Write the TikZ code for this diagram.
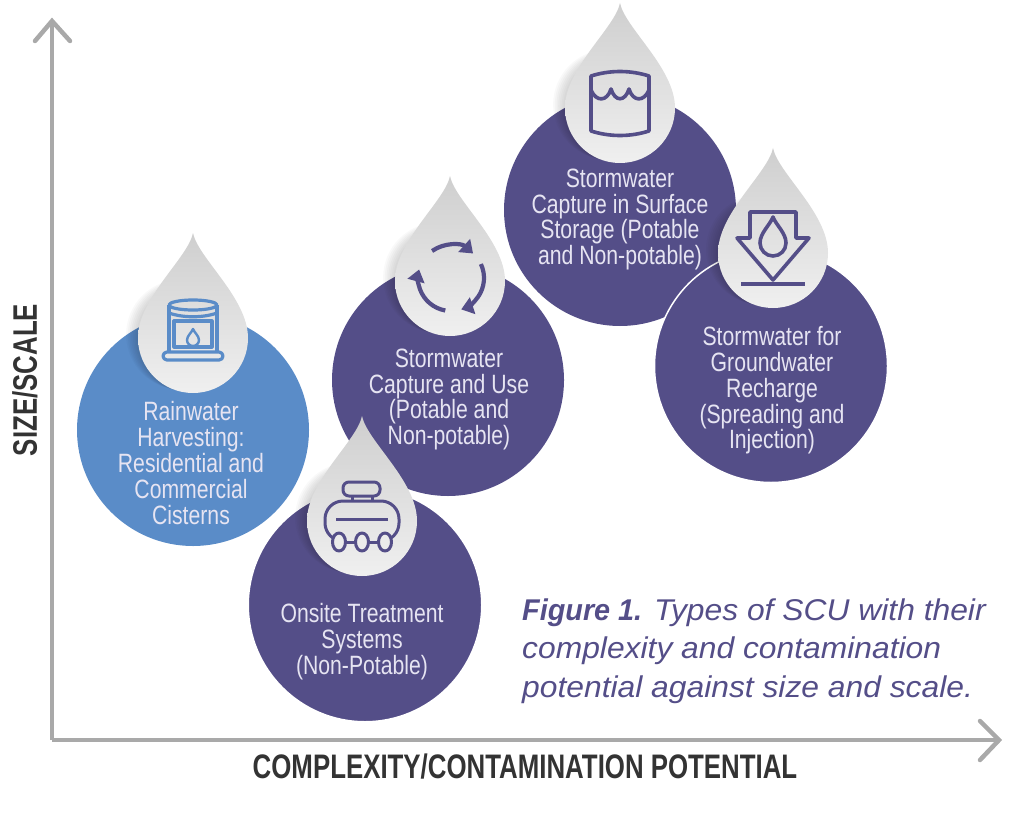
\documentclass[tikz,border=0pt]{standalone}
\usepackage{fontspec}
\usepackage{xcolor}
\usetikzlibrary{arrows.meta,positioning}
\setmainfont{Liberation Sans}[FakeStretch=0.8]
\newfontfamily\axisfont{Liberation Sans}[FakeStretch=0.76]
\newfontfamily\capfont{Liberation Sans}[FakeStretch=1.06,BoldItalicFeatures={FakeStretch=0.96}]
\definecolor{scupurple}{HTML}{544E88}
\definecolor{scublue}{HTML}{5A8CC8}
\definecolor{scuaxis}{HTML}{A9A9A9}
\definecolor{scutext}{HTML}{E6E4F2}
\tikzset{
  blob/.style={circle,minimum size=232pt,inner sep=0pt,fill=scupurple},
  blurb/.style={align=center,text=scutext,font=\fontsize{26.5}{25.8}\selectfont},
  axisline/.style={draw=scuaxis,line width=4.5pt},
  axislabel/.style={font=\axisfont\fontsize{34}{36}\selectfont\bfseries,text=black!80},
  icon/.style={draw=scupurple,line width=3.6pt,line join=round},
  pics/drop/.style={code={
    \foreach \k in {1,...,7}
      \fill[black,opacity=0.022] (-\k*1.7,-\k*0.5) circle[radius=55];
    \shade[top color=black!19,middle color=black!10,bottom color=black!6] (0,-105) .. controls (5,-80) and (55,-40) .. (55,0)
      arc[start angle=0,end angle=180,radius=55] .. controls (-55,-40) and (-5,-80) .. (0,-105) -- cycle;
  }},
}

\begin{document}
\begin{tikzpicture}[x=1pt,y=-1pt]
  \useasboundingbox (0,0) rectangle (1024,813);
  % axes
  \coordinate (origin) at (52,740);
  \coordinate (ytip) at (52,21);
  \coordinate (xtip) at (999,740);
  \draw[axisline] (origin) -- (ytip);
  \draw[axisline] (origin) -- (xtip);
  \draw[axisline,line cap=round] (35,41) -- (ytip) -- (70,41);
  \draw[axisline,line cap=round] (980,721) -- (xtip) -- (980,760);
  \node[axislabel,rotate=90] (ylabel) at (25,380) {SIZE/SCALE};
  \node[axislabel] (xlabel) at (525,767) {COMPLEXITY/CONTAMINATION POTENTIAL};

  % circles
  \node[blob] (surface) at (620,210) {};
  \node[blob,draw=white,line width=1.5pt,minimum size=233pt] (ground) at (771,366) {};
  \node[blob] (capture) at (448,380) {};
  \node[blob,fill=scublue] (rain) at (193,430) {};
  \node[blob,draw=white,line width=4pt,minimum size=236pt] (onsite) at (365,605) {};

  % drops
  \pic at (620,108) {drop};
  \pic at (773,253) {drop};
  \pic at (450,281) {drop};
  \pic at (193,338) {drop};
  \pic at (362,521) {drop};

  % surface storage icon
  \begin{scope}[shift={(620,108)}]
    \draw[icon] (-29,-32) .. controls (-10,-38) and (10,-38) .. (29,-32) -- (29,23)
      .. controls (10,29) and (-10,29) .. (-29,23) -- cycle;
    \draw[icon] (-29,-18) .. controls (-24,-6) and (-13,-6) .. (-9,-19)
      .. controls (-5,-6) and (5,-6) .. (9,-19)
      .. controls (13,-6) and (24,-6) .. (29,-18);
  \end{scope}
  % recharge icon
  \begin{scope}[shift={(773,253)}]
    \draw[icon] (-23,-41) -- (23,-41) -- (23,-15) -- (36,-15) -- (0,27) -- (-36,-15) -- (-23,-15) -- cycle;
    \draw[icon] (0,-36) .. controls (3,-28) and (13,-20) .. (13,-10)
      arc[start angle=0,end angle=180,radius=13] .. controls (-13,-20) and (-3,-28) .. (0,-36) -- cycle;
    \draw[icon] (-32,31) -- (32,31);
  \end{scope}
  % recycle icon
  \begin{scope}[shift={(451,278)},icon/.append style={line width=4.2pt}]
    \draw[icon,-{Triangle[length=12pt,width=17pt]}] (-125:33) arc[start angle=-125,end angle=-48,radius=33];
    \draw[icon,-{Triangle[length=12pt,width=17pt]}] (-25:33) arc[start angle=-25,end angle=72,radius=33];
    \draw[icon,-{Triangle[length=12pt,width=17pt]}] (100:33) arc[start angle=100,end angle=195,radius=33];
  \end{scope}
  % cistern icon
  \begin{scope}[shift={(193,338)},icon/.append style={draw=scublue,line width=3.2pt}]
    \draw[icon] (0,-33) ellipse[x radius=24,y radius=5];
    \draw[icon] (-24,-33) -- (-24,14);
    \draw[icon] (24,-33) -- (24,14);
    \draw[icon] (-24,-25) .. controls (-10,-20) and (10,-20) .. (24,-25);
    \draw[icon] (-19,-17) rectangle (19,9);
    \draw[icon,rounded corners=4pt] (-30,14) rectangle (30,22);
    \draw[icon,line width=2.4pt] (0,-9) .. controls (1,-6) and (6,-2) .. (6,2)
      arc[start angle=0,end angle=180,radius=6] .. controls (-6,-2) and (-1,-6) .. (0,-9) -- cycle;
  \end{scope}
  % tanker icon
  \begin{scope}[shift={(362,521)},icon/.append style={line width=3pt}]
    \draw[icon,rounded corners=6pt] (-19,-39) rectangle (18,-25);
    \draw[icon] (-10,-25) -- (-10,-20);
    \draw[icon] (10,-25) -- (10,-20);
    \draw[icon,rounded corners=18pt] (-20,20) -- (-37,20) -- (-37,-20) -- (37,-20) -- (37,20) -- (20,20);
    \draw[icon] (-26,-2) -- (26,-2);
    \draw[icon] (-16.5,21) -- (-6.5,21);
    \draw[icon] (6.5,21) -- (16.5,21);
    \draw[icon,fill=black!8] (-23,21) ellipse[x radius=6.5,y radius=9];
    \draw[icon,fill=black!8] (0,21) ellipse[x radius=6.5,y radius=9];
    \draw[icon,fill=black!8] (23,21) ellipse[x radius=6.5,y radius=9];
  \end{scope}

  % labels
  \node[blurb] (surfacetext) at (620,219.5) {Stormwater\\Capture in Surface\\Storage (Potable\\and Non-potable)};
  \node[blurb] (groundtext) at (772,390.5) {Stormwater for\\Groundwater\\Recharge\\(Spreading and\\Injection)};
  \node[blurb] (capturetext) at (449,399.5) {Stormwater\\Capture and Use\\(Potable and\\Non-potable)};
  \node[blurb] (raintext) at (191,463) {Rainwater\\Harvesting:\\Residential and\\Commercial\\Cisterns};
  \node[blurb] (onsitetext) at (362,641.5) {Onsite Treatment\\Systems\\(Non-Potable)};

  \node[align=left,anchor=west,inner sep=0pt,text=scupurple,font=\capfont\fontsize{30}{38.5}\selectfont\itshape] (caption) at (522,651)
    {\textbf{Figure 1.} Types of SCU with their\\complexity and contamination\\potential against size and scale.};
\end{tikzpicture}
\end{document}
